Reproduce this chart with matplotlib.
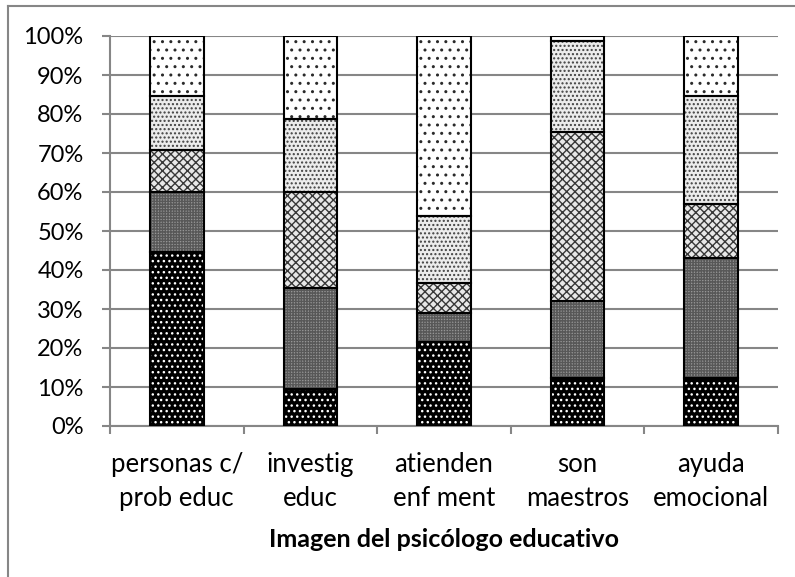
import numpy as np
import matplotlib
matplotlib.use('Agg')
import matplotlib.pyplot as plt
from matplotlib.lines import Line2D

###############################################################################
# Data (percent of answers per category)
###############################################################################
categories = [
    'personas c/\nprob educ', 'investig\neduc', 'atienden\nenf ment',
    'son\nmaestros', 'ayuda\nemocional'
]
seg1 = [44.5, 9.4, 21.6, 12.2, 12.2]
seg2 = [15.5, 25.9, 7.4, 19.9, 30.8]
seg3 = [10.7, 24.7, 7.7, 43.3, 13.9]
seg4 = [13.8, 18.6, 17.1, 23.3, 27.6]
seg5 = [15.5, 21.4, 46.2, 1.3, 15.5]
yticks = list(range(0, 101, 10))
xlabel = 'Imagen del psicólogo educativo'

###############################################################################
# Styles
###############################################################################
GRID = '#868686'
# (facecolor, hatch, hatchcolor) bottom -> top
STYLES = [
    ('#000000', '...', '#ffffff'),
    ('#969696', '++++++', '#585858'),
    ('#e8e8e8', 'xxxx', '#383838'),
    ('#ececec', '....', '#404040'),
    ('#ffffff', '..', '#2a2a2a'),
]
plt.rcParams['font.family'] = ['Lato', 'DejaVu Sans']
plt.rcParams['hatch.linewidth'] = 1.0

###############################################################################
# Figure
###############################################################################
fig = plt.figure(figsize=(7.95, 5.77), dpi=100)
ax = fig.add_axes([110/795, 1-426/577, 668/795, 390/577])

x = np.arange(len(categories))
bottom = np.zeros(len(categories))
for (vals, (fc, hatch, hc)) in zip([seg1, seg2, seg3, seg4, seg5], STYLES):
    vals = np.array(vals)
    # hatched fill ------------------------------------------------------------
    ax.bar(x, vals, 0.4, bottom=bottom, color=fc, edgecolor=hc,
           hatch=hatch, linewidth=0, zorder=2)
    # outline -----------------------------------------------------------------
    ax.bar(x, vals, 0.4, bottom=bottom, facecolor='none',
           edgecolor='black', linewidth=1.5, zorder=3)
    bottom = bottom + vals

ax.set_xlim(-0.5, len(categories)-0.5)
ax.set_ylim(0, 100)
ax.set_yticks(yticks)
ax.set_yticklabels(['{}%'.format(v) for v in yticks])
ax.yaxis.grid(True, color=GRID, linewidth=1.5, zorder=0)
ax.set_axisbelow(True)

ax.set_xticks(np.arange(-0.5, len(categories), 1))
ax.set_xticklabels([])
ax.set_xticks(x, minor=True)
ax.set_xticklabels(categories, minor=True, linespacing=1.45)
ax.tick_params(axis='x', which='minor', length=0, pad=19, labelsize=18.5)
ax.tick_params(axis='x', which='major', length=6, width=1.5, color=GRID)
ax.tick_params(axis='y', length=6, width=1.5, color=GRID, pad=13,
               labelsize=17)
for s in ('top', 'right'):
    ax.spines[s].set_visible(False)
for s in ('left', 'bottom'):
    ax.spines[s].set_color(GRID)
    ax.spines[s].set_linewidth(1.5)
ax.set_xlabel(xlabel, fontsize=18, fontweight='bold', labelpad=12)

# Chart-area border (left and top visible) ------------------------------------
fig.add_artist(Line2D([8/795, 8/795], [0, 1-6/577], color=GRID,
                      linewidth=1.5, transform=fig.transFigure))
fig.add_artist(Line2D([8/795, 1], [1-6/577, 1-6/577], color=GRID,
                      linewidth=1.5, transform=fig.transFigure))

fig.savefig('out.png', dpi=100)
plt.close(fig)
